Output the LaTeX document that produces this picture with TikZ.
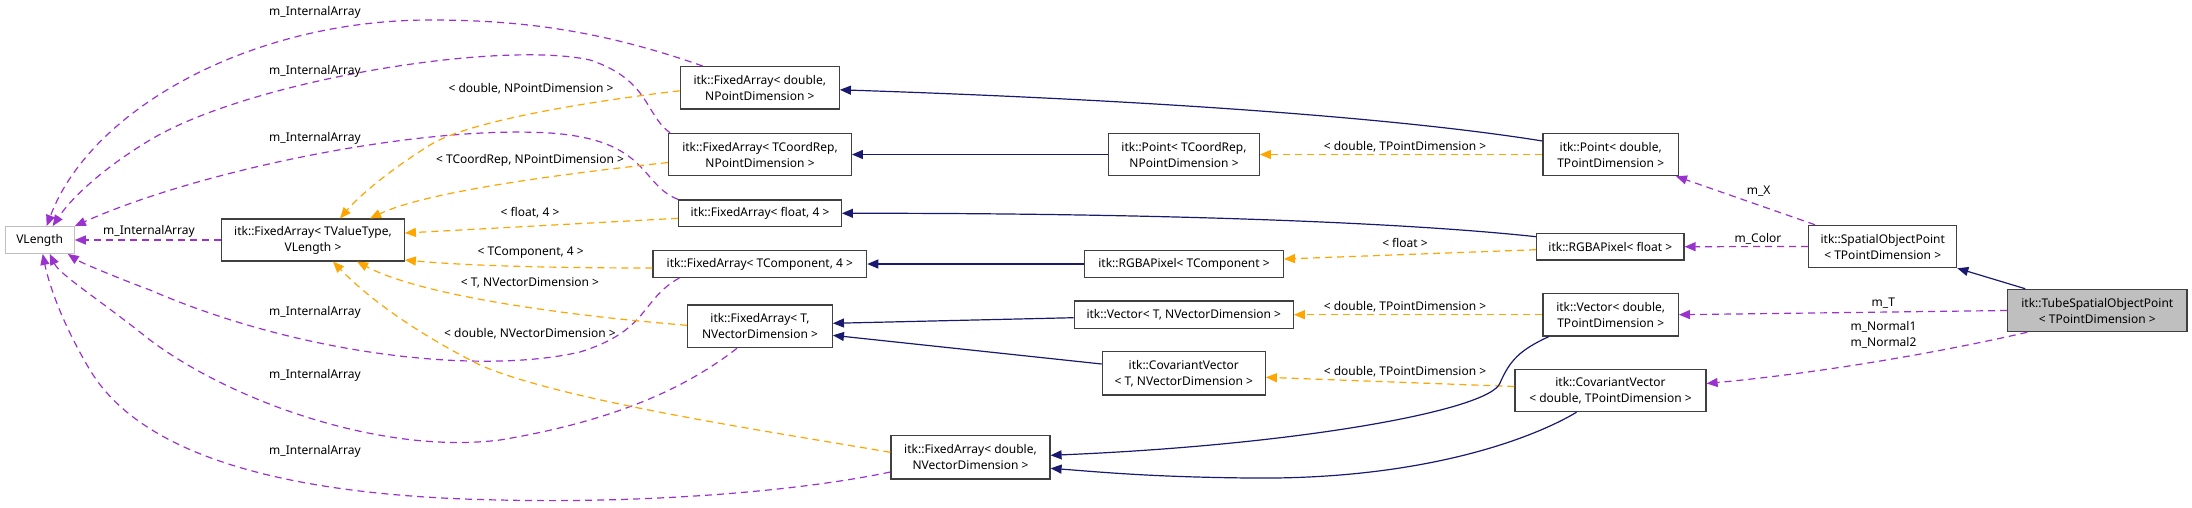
\documentclass[tikz,border=0pt]{standalone}
\usepackage{fontspec}
\setmainfont{Noto Sans}
\usetikzlibrary{arrows.meta}
\definecolor{mem}{HTML}{9A32CD}
\definecolor{tpl}{HTML}{FFA500}
\definecolor{inh}{HTML}{191970}
\definecolor{bord}{HTML}{404040}
\tikzset{
  box/.style={draw=bord,line width=1.2pt,fill=white,inner sep=0pt,align=center,font=\fontsize{12}{16}\selectfont},
  lbl/.style={inner sep=0pt,align=center,font=\fontsize{12}{16}\selectfont},
  memb/.style={draw=mem,line width=1.2pt,dash pattern=on 7pt off 5pt,-{Triangle[length=11pt,width=9pt]}},
  tmpl/.style={draw=tpl,line width=1.2pt,dash pattern=on 7pt off 5pt,-{Triangle[length=11pt,width=9pt]}},
  inhe/.style={draw=inh,line width=1.2pt,-{Triangle[length=11pt,width=9pt]}},
}
\begin{document}
\begin{tikzpicture}[x=1pt,y=-1pt]
\useasboundingbox (0,0) rectangle (2192,507);
% nodes
\node[box,draw=black!25,minimum width=69pt,minimum height=26.7pt] (vl) at (39.7,240) {VLength};
\node[box,minimum width=182.6pt,minimum height=42pt] (fav) at (313,240) {itk::FixedArray< TValueType,\\VLength >};
\node[box,minimum width=159pt,minimum height=42.3pt] (fadnp) at (759.8,87.8) {itk::FixedArray< double,\\NPointDimension >};
\node[box,minimum width=182.7pt,minimum height=42.3pt] (fatc) at (760,154.5) {itk::FixedArray< TCoordRep,\\NPointDimension >};
\node[box,minimum width=162.7pt,minimum height=26.7pt] (faf4) at (760,213.3) {itk::FixedArray< float, 4 >};
\node[box,minimum width=213.7pt,minimum height=26.7pt] (fatco) at (759.8,264) {itk::FixedArray< TComponent, 4 >};
\node[box,minimum width=144.7pt,minimum height=42.7pt] (fatn) at (760,326.3) {itk::FixedArray< T,\\NVectorDimension >};
\node[box,minimum width=159pt,minimum height=43.3pt] (fadnv) at (970.5,457.3) {itk::FixedArray< double,\\NVectorDimension >};
\node[box,minimum width=150.7pt,minimum height=42.3pt] (ptc) at (1184,154.5) {itk::Point< TCoordRep,\\NPointDimension >};
\node[box,minimum width=198.7pt,minimum height=26.7pt] (rgbtco) at (1184,264) {itk::RGBAPixel< TComponent >};
\node[box,minimum width=219pt,minimum height=27.3pt] (vectn) at (1183.8,314.7) {itk::Vector< T, NVectorDimension >};
\node[box,minimum width=163pt,minimum height=43.3pt] (covtn) at (1183.8,373.3) {itk::CovariantVector\\< T, NVectorDimension >};
\node[box,minimum width=135.3pt,minimum height=42.3pt] (ptd) at (1610.7,154.5) {itk::Point< double,\\TPointDimension >};
\node[box,minimum width=147.3pt,minimum height=26.7pt] (rgbf) at (1610.3,246.7) {itk::RGBAPixel< float >};
\node[box,minimum width=148pt,minimum height=42.3pt] (sop) at (1882.7,246.5) {itk::SpatialObjectPoint\\< TPointDimension >};
\node[box,minimum width=135.3pt,minimum height=42.7pt] (vecd) at (1610.7,314.7) {itk::Vector< double,\\TPointDimension >};
\node[box,minimum width=191pt,minimum height=42.3pt] (covd) at (1610.5,390.5) {itk::CovariantVector\\< double, TPointDimension >};
\node[box,fill=black!25,minimum width=179.3pt,minimum height=42.3pt] (tsop) at (2097.3,310.5) {itk::TubeSpatialObjectPoint\\< TPointDimension >};
% member edges
\draw[memb] (fav.west) -- (vl.east);
\draw[memb] ([xshift=-57pt]fadnp.north) .. controls (600,30) and (520,20) .. (430,20) .. controls (250,20) and (90,110) .. ([xshift=7pt]vl.north);
\draw[memb] ([xshift=2pt]fatc.north west) .. controls (645,115) and (650,80) .. (590,60) .. controls (500,40) and (250,80) .. (150,140) .. controls (100,170) and (70,200) .. ([xshift=13pt]vl.north);
\draw[memb] (faf4.north west) .. controls (640,185) and (650,140) .. (550,133) .. controls (420,125) and (200,170) .. (vl.north east);
\draw[memb] ([xshift=27pt]fatco.south west) .. controls (640,300) and (650,330) .. (580,352) .. controls (480,375) and (300,355) .. (150,290) .. controls (110,275) and (80,262) .. ([xshift=-7pt]vl.south east);
\draw[memb] ([xshift=-23pt]fatn.south) .. controls (690,385) and (620,420) .. (500,440) .. controls (380,455) and (230,400) .. (150,340) .. controls (100,300) and (60,275) .. ([xshift=10pt]vl.south);
\draw[memb] ([yshift=-14.7pt]fadnv.west) .. controls (780,495) and (620,503) .. (500,500) .. controls (330,497) and (150,470) .. (90,370) .. controls (60,320) and (48,280) .. ([xshift=3pt]vl.south);
\draw[memb] ([xshift=-67.7pt]sop.north) -- ([xshift=-3pt]ptd.south east);
\draw[memb] (sop.west) -- (rgbf.east);
\draw[memb] (tsop.west) -- (vecd.east);
\draw[memb] ([xshift=-70pt]tsop.south) .. controls (1950,350) and (1830,372) .. ([yshift=7pt]covd.east);
% template edges
\draw[tmpl] ([yshift=-3pt]fadnp.west) .. controls (600,100) and (470,120) .. (430,145) .. controls (390,170) and (360,195) .. ([xshift=27pt]fav.north);
\draw[tmpl] ([yshift=-8pt]fatc.west) .. controls (580,172) and (430,190) .. ([xshift=57pt]fav.north);
\draw[tmpl] ([yshift=-5pt]faf4.west) -- ([yshift=7pt]fav.east);
\draw[tmpl] ([yshift=-4pt]fatco.west) .. controls (560,268) and (470,266) .. ([yshift=-20pt]fav.east);
\draw[tmpl] ([yshift=1pt]fatn.west) .. controls (560,315) and (420,295) .. ([xshift=44pt]fav.south);
\draw[tmpl] ([yshift=5pt]fadnv.west) .. controls (760,430) and (560,400) .. (480,365) .. controls (420,335) and (370,300) .. ([xshift=20pt]fav.south);
\draw[tmpl] (ptd.west) -- (ptc.east);
\draw[tmpl] ([yshift=-3pt]rgbf.west) -- ([yshift=5pt]rgbtco.east);
\draw[tmpl] (vecd.west) -- (vectn.east);
\draw[tmpl] ([yshift=4pt]covd.west) -- ([yshift=-4pt]covtn.east);
% inheritance edges
\draw[inhe] ([yshift=13.5pt]ptd.west) .. controls (1400,118) and (1150,100) .. ([yshift=-2pt]fadnp.east);
\draw[inhe] (ptc.west) -- (fatc.east);
\draw[inhe] ([yshift=10pt]rgbf.west) .. controls (1400,222) and (1150,213) .. (faf4.east);
\draw[inhe] (rgbtco.west) -- (fatco.east);
\draw[inhe] ([yshift=-3pt]vectn.west) -- ([yshift=3pt]fatn.east);
\draw[inhe] ([yshift=9.3pt]covtn.west) -- ([yshift=-9pt]fatn.east);
\draw[inhe] ([xshift=-62pt]vecd.south) .. controls (1520,350) and (1510,360) .. (1500,383) .. controls (1490,410) and (1300,445) .. ([yshift=2pt]fadnv.east);
\draw[inhe] ([xshift=-34pt]covd.south) .. controls (1530,440) and (1420,480) .. (1250,478) .. controls (1150,477) and (1100,472) .. ([yshift=-11pt]fadnv.east);
\draw[inhe] ([xshift=-72pt]tsop.north) -- (sop.south east);
% labels
\node[lbl] (l1) at (149,231.7) {m\_InternalArray};
\node[lbl] (l2) at (315,12.7) {m\_InternalArray};
\node[lbl] (l3) at (315,71.7) {m\_InternalArray};
\node[lbl] (l4) at (315,138.3) {m\_InternalArray};
\node[lbl] (l5) at (315,312.7) {m\_InternalArray};
\node[lbl] (l6) at (315,375) {m\_InternalArray};
\node[lbl] (l7) at (315,451.7) {m\_InternalArray};
\node[lbl] (l8) at (531,88.3) {< double, NPointDimension >};
\node[lbl] (l9) at (530,160) {< TCoordRep, NPointDimension >};
\node[lbl] (l10) at (530,212.3) {< float, 4 >};
\node[lbl] (l11) at (530.7,252.7) {< TComponent, 4 >};
\node[lbl] (l12) at (530,282.7) {< T, NVectorDimension >};
\node[lbl] (l13) at (530,334) {< double, NVectorDimension >};
\node[lbl] (l14) at (1405,146.7) {< double, TPointDimension >};
\node[lbl] (l15) at (1405,243.3) {< float >};
\node[lbl] (l16) at (1405,306.7) {< double, TPointDimension >};
\node[lbl] (l17) at (1405,371.7) {< double, TPointDimension >};
\node[lbl] (l18) at (1758.7,191) {m\_X};
\node[lbl] (l19) at (1758,238.7) {m\_Color};
\node[lbl] (l20) at (1883.3,303.3) {m\_T};
\node[lbl] (l21) at (1883.5,334.7) {m\_Normal1\\m\_Normal2};
\end{tikzpicture}
\end{document}
